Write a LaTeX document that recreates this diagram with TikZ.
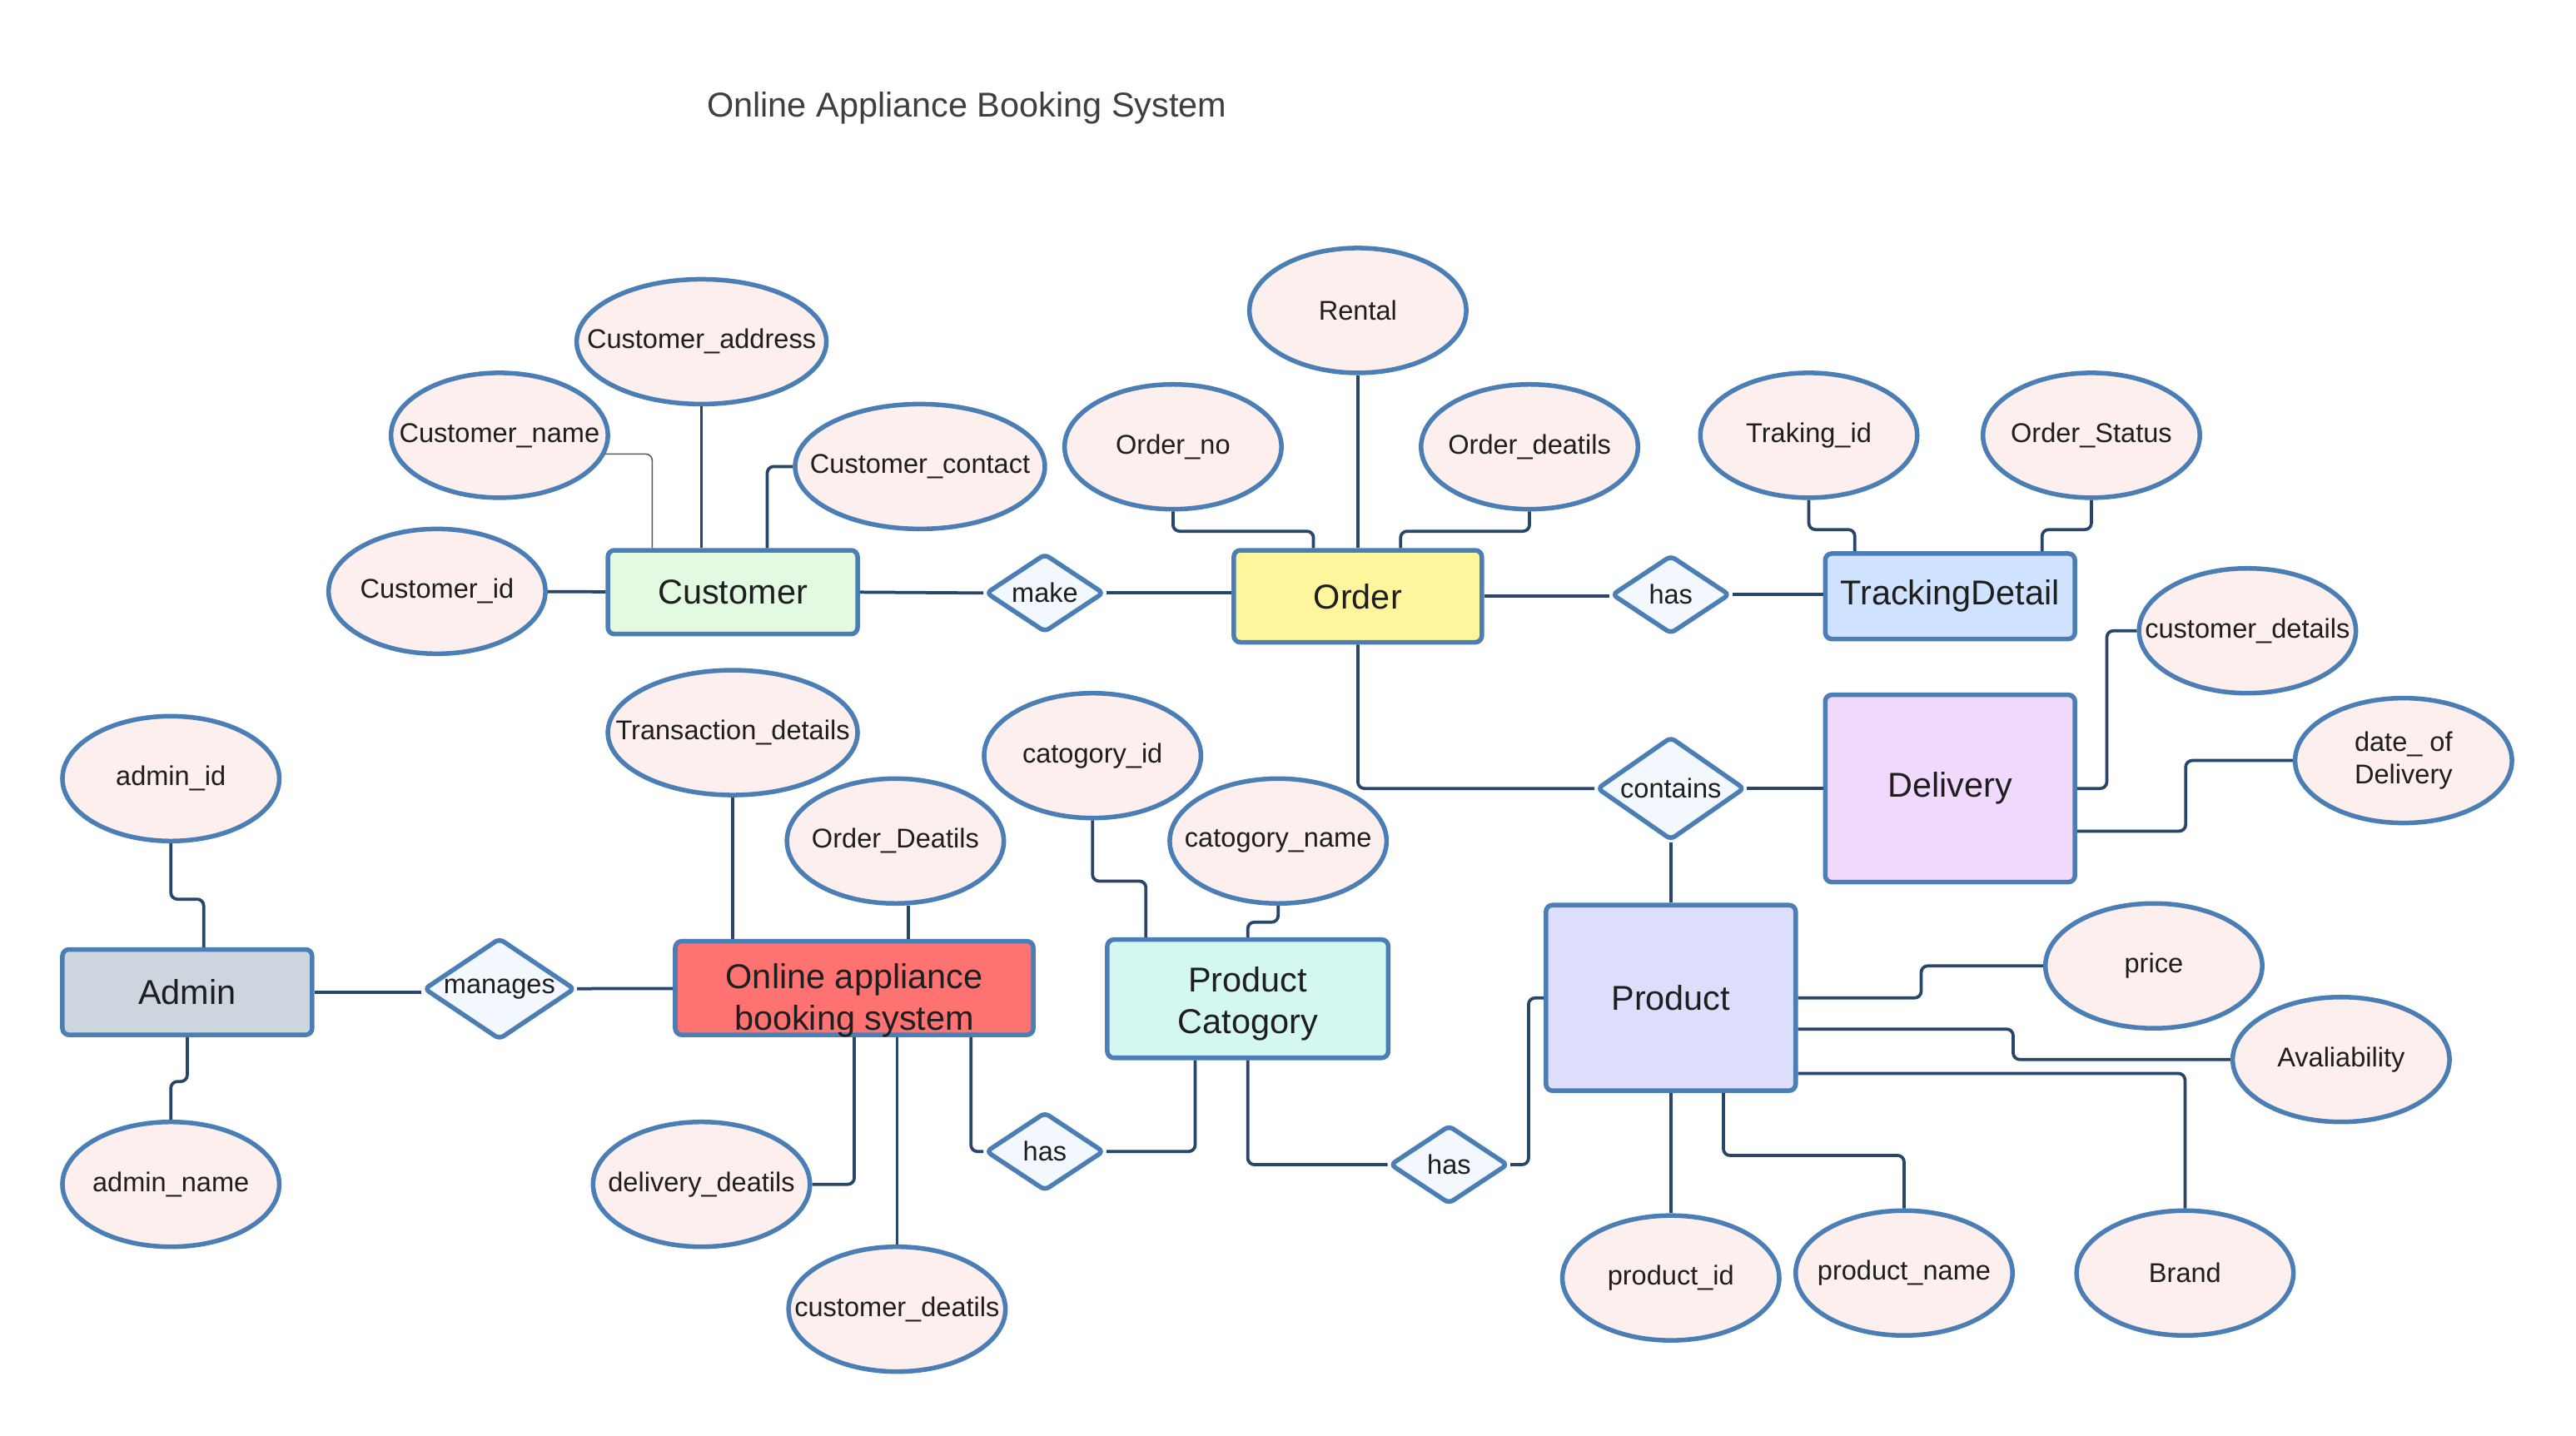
\documentclass[tikz,border=0pt]{standalone}
\usepackage{fontspec}
\setmainfont{Liberation Sans}
\usepackage{tikz}
\usepackage{xcolor}
\usetikzlibrary{shapes.geometric}

\definecolor{bord}{RGB}{74,126,181}
\definecolor{wire}{RGB}{40,70,105}
\definecolor{ink}{RGB}{30,30,30}
\definecolor{titlegray}{RGB}{60,64,67}
\definecolor{attrfill}{RGB}{252,239,238}
\definecolor{relfill}{RGB}{242,248,253}
\definecolor{custfill}{RGB}{226,249,226}
\definecolor{ordfill}{RGB}{255,245,157}
\definecolor{trackfill}{RGB}{207,226,255}
\definecolor{delfill}{RGB}{240,217,252}
\definecolor{prodfill}{RGB}{221,222,251}
\definecolor{catfill}{RGB}{213,247,241}
\definecolor{sysfill}{RGB}{255,114,114}
\definecolor{admfill}{RGB}{205,213,223}

\begin{document}
\begin{tikzpicture}[x=1pt, y=-1pt,
  ent/.style = {draw=bord, line width=2.8pt, rounded corners=4pt, inner sep=0pt, align=center, text=ink, font=\fontsize{21}{25}\selectfont},
  attr/.style = {draw=bord, line width=2.8pt, ellipse, fill=attrfill, minimum width=132pt, minimum height=76pt, inner sep=-20pt, align=center, text=ink, font=\fontsize{16.5}{20}\selectfont},
  rel/.style = {draw=bord, line width=2.8pt, diamond, aspect=1.5, rounded corners=3pt, fill=relfill, minimum width=72pt, minimum height=48pt, inner sep=0pt, text=ink, font=\fontsize{16.5}{20}\selectfont},
  con/.style = {draw=wire, line width=1.9pt, rounded corners=4pt}]
\fill[white] (0,0) rectangle (1568,874);
\useasboundingbox (0,0) rectangle (1568,874);

\node[text=titlegray, font=\fontsize{21}{25}\selectfont] (title) at (588.5,66) {Online Appliance Booking System};

\node[ent, fill=custfill, minimum width=152pt, minimum height=51pt] (cust) at (446,360.5) {Customer};
\node[ent, fill=ordfill, minimum width=151pt, minimum height=56pt] (order) at (826.5,363) {Order};
\node[ent, fill=trackfill, minimum width=152pt, minimum height=52pt] (track) at (1187,363) {TrackingDetail};
\node[ent, fill=delfill, minimum width=152pt, minimum height=114pt] (deliv) at (1187,480) {Delivery};
\node[ent, fill=prodfill, minimum width=152pt, minimum height=113pt] (prod) at (1017,607.5) {Product};
\node[ent, fill=catfill, minimum width=171pt, minimum height=72pt] (cat) at (759.5,608) {};
\node[ent, draw=none, fill=none] (cattext) at (759.5,611) {Product\\Catogory};
\node[ent, fill=sysfill, minimum width=218pt, minimum height=57pt] (sys) at (520,601.5) {};
\node[ent, draw=none, fill=none] (systext) at (520,609) {Online appliance\\booking system};
\node[ent, fill=admfill, minimum width=152pt, minimum height=52pt] (admin) at (114,604) {Admin};

\node[rel] (make) at (636,361) {make};
\node[rel] (has1) at (1017,362) {has};
\node[rel, minimum width=90pt, minimum height=63pt] (contains) at (1017,480) {contains};
\node[rel, minimum width=92pt, minimum height=62pt] (manages) at (304,602) {manages};
\node[rel] (has2) at (636,701) {has};
\node[rel] (has3) at (882,709) {has};

\node[attr] (cid) at (266,360) {Customer\_id};
\node[attr] (cname) at (304,265) {Customer\_name};
\node[attr, minimum width=152pt] (caddr) at (427,208) {Customer\_address};
\node[attr, minimum width=152pt] (ccont) at (560,284) {Customer\_contact};
\node[attr] (ono) at (714,272) {Order\_no};
\node[attr] (rental) at (826.5,189) {Rental};
\node[attr] (odet) at (931,272) {Order\_deatils};
\node[attr] (tid) at (1101,265) {Traking\_id};
\node[attr] (ostat) at (1273,265) {Order\_Status};
\node[attr] (cdet) at (1368,384) {customer\_details};
\node[attr] (dod) at (1463,463) {date\_ of\\Delivery};
\node[attr] (aid) at (104,474) {admin\_id};
\node[attr] (aname) at (104,721) {admin\_name};
\node[attr, minimum width=152pt] (trans) at (446,446) {Transaction\_details};
\node[attr] (odd) at (545,512) {Order\_Deatils};
\node[attr] (catid) at (665,460) {catogory\_id};
\node[attr] (catname) at (778,512) {catogory\_name};
\node[attr] (ddet) at (427,721) {delivery\_deatils};
\node[attr] (custd) at (546,797) {customer\_deatils};
\node[attr] (price) at (1311,588) {price};
\node[attr] (avail) at (1425,645) {Avaliability};
\node[attr] (pid) at (1017,778) {product\_id};
\node[attr] (pname) at (1159,775) {product\_name};
\node[attr] (brand) at (1330,775) {Brand};

\draw[con] (cid) -- (cust);
\draw[con, line width=0.8pt, draw=gray!70!black] (cname.-10) -| ([xshift=-49pt]cust.north);
\draw[con] (caddr.south) -- (caddr.south |- cust.north);
\draw[con] (ccont.west) -| ([xshift=21pt]cust.north);
\draw[con] (cust.east) -- (make.west);
\draw[con] (make.east) -- (make.east -| order.west);
\draw[con] (ono.south) -- ++(0,12) -| ([xshift=-27pt]order.north);
\draw[con] (rental.south) -- (rental.south |- order.north);
\draw[con] (odet.south) -- ++(0,12) -| ([xshift=26pt]order.north);
\draw[con] (order.east) -- (order.east -| has1.west);
\draw[con] (has1.east) -- (has1.east -| track.west);
\draw[con] (tid.south) -- ++(0,18) -| ([xshift=-58pt]track.north);
\draw[con] (ostat.south) -- ++(0,18) -| ([xshift=56pt]track.north);
\draw[con] (order.south) |- (contains.west);
\draw[con] (contains) -- (deliv);
\draw[con] (contains) -- (prod);
\draw[con] (deliv.east) -- ++(18,0) |- (cdet.west);
\draw[con] ([yshift=-26pt]deliv.east) -- ++(66,0) |- (dod.west);
\draw[con] (prod.east) -- ++(75,0) |- (price.west);
\draw[con] ([yshift=-19pt]prod.east) -- ++(131,0) |- (avail.west);
\draw[con] ([yshift=-46pt]prod.east) -| (brand.north);
\draw[con] (prod) -- (pid);
\draw[con] ([xshift=32pt]prod.south) -- ++(0,38) -| (pname.north);
\draw[con] (has3.east) -- ++(11,0) |- (prod.west);
\draw[con] (cat.south) |- (has3.west);
\draw[con] ([xshift=-32pt]cat.south) |- (has2.east);
\draw[con] ([xshift=71pt]sys.south) |- (has2.west);
\draw[con] (sys.south) |- (ddet.east);
\draw[con] ([xshift=26pt]sys.south) -- (custd.north);
\draw[con] (trans.south) -- (trans.south |- sys.north);
\draw[con] ([xshift=8pt]odd.south) -- ([xshift=33pt]sys.north);
\draw[con] (catid.south) -- ++(0,37) -| ([xshift=-62pt]cat.north);
\draw[con] (catname.south) -- ++(0,10) -| (cat.north);
\draw[con] (admin.east) -- (admin.east -| manages.west);
\draw[con] (manages) -- (sys);
\draw[con] (aid.south) -- ++(0,34) -| ([xshift=10pt]admin.north);
\draw[con] (admin.south) -- ++(0,27) -| (aname.north);

\end{tikzpicture}
\end{document}
